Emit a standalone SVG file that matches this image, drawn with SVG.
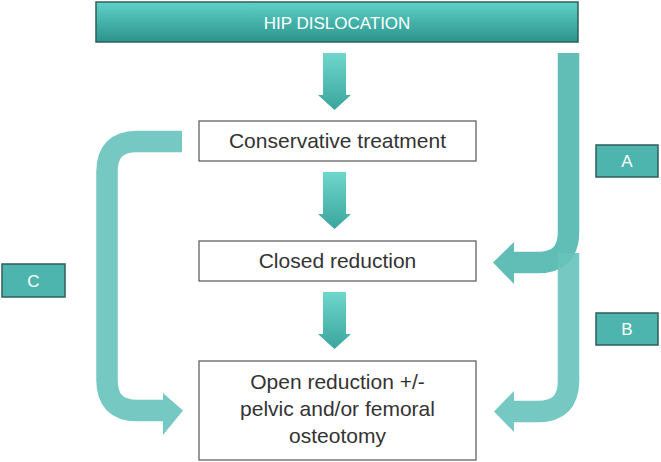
<svg xmlns="http://www.w3.org/2000/svg" width="661" height="462" viewBox="0 0 661 462">
<defs>
<linearGradient id="hg" x1="0" y1="0" x2="0" y2="1"><stop offset="0" stop-color="#5fd1c6"/><stop offset="1" stop-color="#2b948c"/></linearGradient>
<linearGradient id="ag" x1="0" y1="0" x2="0" y2="1"><stop offset="0" stop-color="#6fd6cc"/><stop offset="1" stop-color="#3aa59c"/></linearGradient>
<path id="down" d="M-11.5,0 H11.5 V42 H16.5 L0,57 L-16.5,42 H-11.5 Z"/>
</defs>
<style>
.box{fill:#fff;stroke:#555;stroke-width:1.2}
.t{font-family:"Liberation Sans",Arial,sans-serif;fill:#333;font-size:21px;text-anchor:middle}
.lab{fill:#4db5ad;stroke:#2f5c5a;stroke-width:1.5}
.lt{font-family:"Liberation Sans",Arial,sans-serif;fill:#fff;font-size:17px;text-anchor:middle}
.curve{fill:none;stroke:#66c3bb;stroke-width:21.5;stroke-opacity:0.9}
.head{fill:#66c3bb;fill-opacity:0.9}
</style>
<g id="connectors">
<use href="#down" x="334.5" y="53" fill="url(#ag)"/>
<use href="#down" x="334.5" y="172" fill="url(#ag)"/>
<use href="#down" x="334.5" y="292" fill="url(#ag)"/>
<path class="curve" d="M568.5,53 V232 Q568.5,262.5 538,262.5 H514" style="stroke:#4fb7ae"/>
<polygon class="head" style="fill:#4fb7ae" points="514,242 514,284 493,262.5"/>
<path class="curve" d="M568.5,253 V381 Q568.5,411.5 538,411.5 H514"/>
<polygon class="head" points="514,391 514,432 494,411.5"/>
<path class="curve" d="M182,141.5 H137 Q107,141.5 107,171.5 V380 Q107,410.5 137,410.5 H163"/>
<polygon class="head" points="163,393 163,435 183,410.5"/>
</g>
<g id="n0"><rect x="96" y="2" width="482" height="40" fill="url(#hg)" stroke="#2f5f5c" stroke-width="1.5"/><text x="337" y="29" class="lt" font-size="21">HIP DISLOCATION</text></g>
<g id="n1"><rect class="box" x="199" y="121" width="277" height="40"/><text class="t" x="337.5" y="148">Conservative treatment</text></g>
<g id="n2"><rect class="box" x="199" y="241" width="277" height="40"/><text class="t" x="337.5" y="268">Closed reduction</text></g>
<g id="n3"><rect class="box" x="199" y="361" width="277" height="99"/><text class="t" x="337.5" y="389">Open reduction +/-</text><text class="t" x="337.5" y="416">pelvic and/or femoral</text><text class="t" x="337.5" y="443">osteotomy</text></g>
<g id="lA"><rect class="lab" x="596" y="145" width="62" height="32"/><text class="lt" x="627" y="167">A</text></g>
<g id="lB"><rect class="lab" x="596" y="313" width="62" height="32"/><text class="lt" x="627" y="335">B</text></g>
<g id="lC"><rect class="lab" x="2" y="264" width="63" height="33"/><text class="lt" x="33.5" y="287">C</text></g>
</svg>
